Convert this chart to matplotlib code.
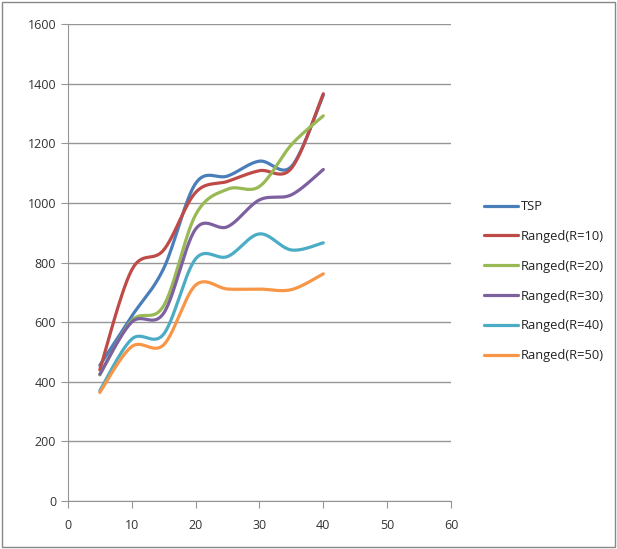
import numpy as np
import matplotlib.pyplot as plt
from matplotlib.patches import Rectangle

n_nodes = [5, 10, 15, 20, 25, 30, 35, 40]
tsp = [455, 620, 780, 1065, 1090, 1140, 1122, 1362]
r10 = [440, 775, 842, 1035, 1072, 1108, 1116, 1366]
r20 = [423, 605, 655, 960, 1046, 1055, 1195, 1292]
r30 = [425, 600, 630, 912, 920, 1010, 1027, 1112]
r40 = [370, 543, 560, 812, 820, 896, 842, 866]
r50 = [364, 518, 524, 724, 711, 711, 709, 762]

names = ['TSP', 'Ranged(R=10)', 'Ranged(R=20)', 'Ranged(R=30)',
         'Ranged(R=40)', 'Ranged(R=50)']
colors = ['#4A7EBB', '#BE4B48', '#98B954', '#7D60A0', '#4BACC6', '#F79646']


def smooth(x, y, steps=30):
    # bezier smoothing like office charts (catmull-rom style control points)
    x = np.asarray(x, float)
    y = np.asarray(y, float)
    px = np.concatenate([[x[0]], x, [x[-1]]])
    py = np.concatenate([[y[0]], y, [y[-1]]])
    xs, ys = [], []
    t = np.linspace(0, 1, steps)
    for i in range(1, len(px) - 2):
        p0 = np.array([px[i], py[i]])
        p3 = np.array([px[i + 1], py[i + 1]])
        c1 = p0 + (np.array([px[i + 1], py[i + 1]]) - np.array([px[i - 1], py[i - 1]])) / 6
        c2 = p3 - (np.array([px[i + 2], py[i + 2]]) - np.array([px[i], py[i]])) / 6
        b = ((1 - t) ** 3)[:, None] * p0 + (3 * (1 - t) ** 2 * t)[:, None] * c1 \
            + (3 * (1 - t) * t ** 2)[:, None] * c2 + (t ** 3)[:, None] * p3
        xs.extend(b[:, 0])
        ys.extend(b[:, 1])
    return xs, ys


plt.rcParams['font.family'] = ['Open Sans', 'DejaVu Sans']

fig = plt.figure(figsize=(6.17, 5.49), dpi=100)
ax = fig.add_axes([0.110, 0.0874, 0.621, 0.8689])

for vals, name, c in zip([tsp, r10, r20, r30, r40, r50], names, colors):
    sx, sy = smooth(n_nodes, vals)
    ax.plot(sx, sy, color=c, lw=2.3, label=name, solid_capstyle='round')

ax.set_xlim(0, 60)
ax.set_ylim(0, 1600)
ax.set_xticks(range(0, 61, 10))
ax.set_yticks(range(0, 1601, 200))
ax.yaxis.grid(True, color='#969696', lw=1)
ax.set_axisbelow(True)
for s in ['top', 'right']:
    ax.spines[s].set_visible(False)
for s in ['left', 'bottom']:
    ax.spines[s].set_color('#969696')
ax.tick_params(direction='out', length=5, color='#969696', labelsize=9,
               labelcolor='#333333')
ax.tick_params(axis='x', pad=8)

leg = ax.legend(loc='center left', bbox_to_anchor=(1.057, 0.461), frameon=False,
                fontsize=9.3, handlelength=2.6, handletextpad=0.2,
                labelspacing=1.3)
for t in leg.get_texts():
    t.set_color('#222222')

fig.patches.append(Rectangle((0.004, 0.004), 0.992, 0.992, transform=fig.transFigure,
                             fill=False, edgecolor='#888888', lw=1))

fig.savefig('out.png', dpi=100)
